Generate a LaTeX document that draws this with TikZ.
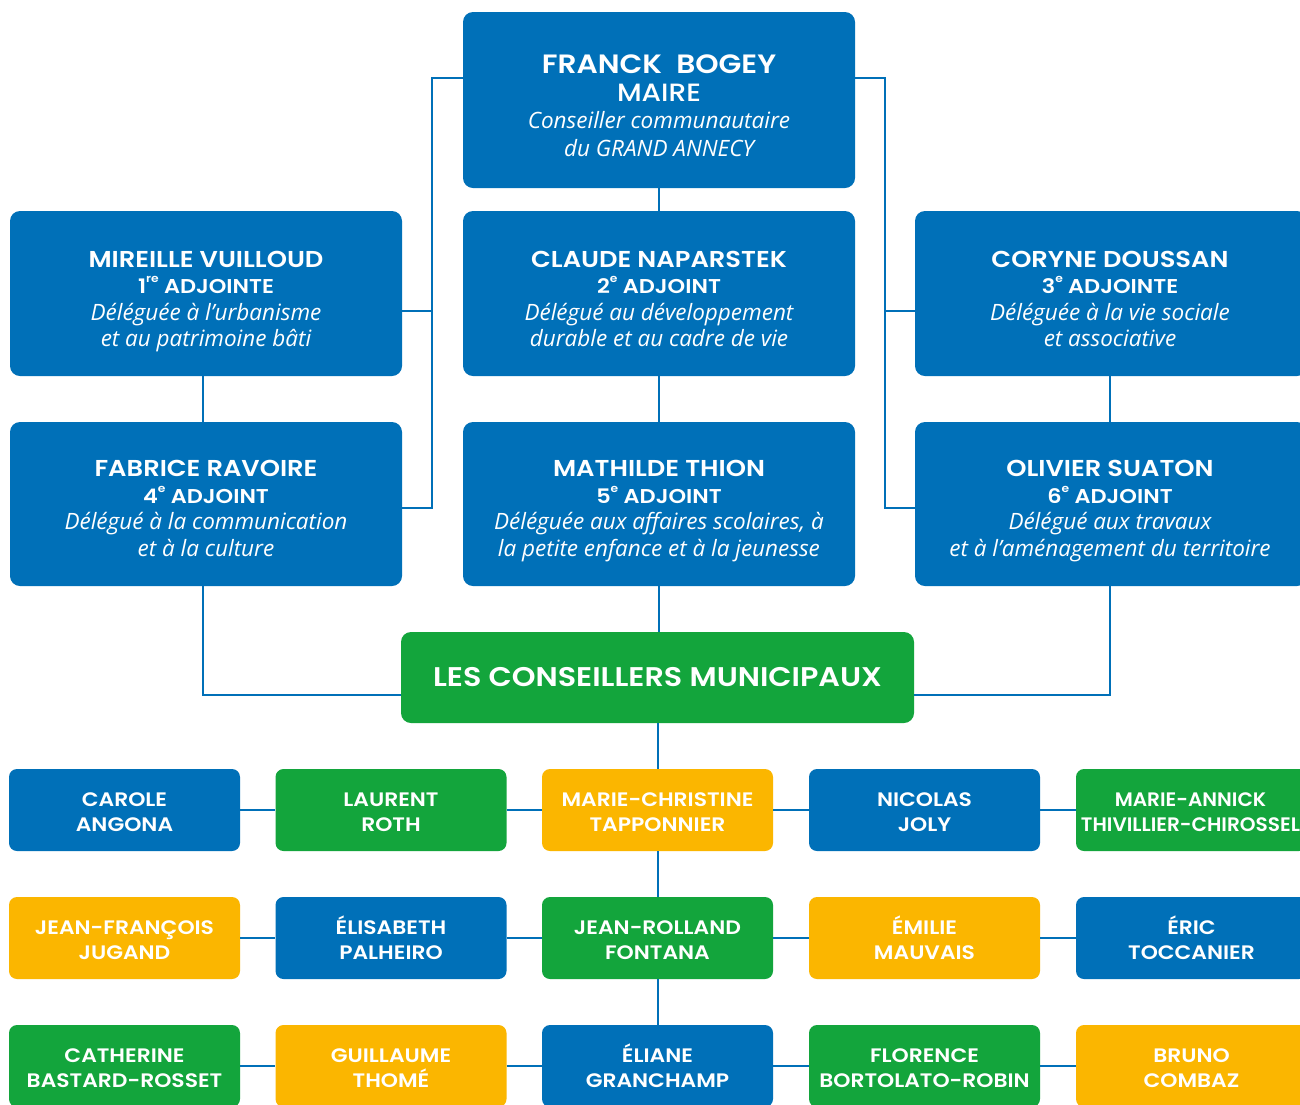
\documentclass[tikz,border=0pt]{standalone}
\usepackage{fontspec}
\newfontfamily\nf{Poppins SemiBold}[FakeStretch=1.12]
\newfontfamily\nfc{Poppins SemiBold}[FakeStretch=1.03]
\newfontfamily\mf{Poppins Medium}[FakeStretch=1.12]
\newfontfamily\itf{Open Sans}
\definecolor{cblue}{HTML}{0070B8}
\definecolor{cgreen}{HTML}{13A53C}
\definecolor{cyellow}{HTML}{FBB600}
\newcommand{\Fst}{\vphantom{ÉÀ}}
\newcommand{\Lst}{\vphantom{gjpqÇ}}
\begin{document}
\begin{tikzpicture}[x=1pt,y=-1pt,
  bigbox/.style={rectangle, rounded corners=10pt, fill=cblue,
     minimum width=392pt, minimum height=165pt, inner sep=0pt},
  txt/.style={text=white, align=center, inner sep=0pt},
  smallbox/.style={rectangle, rounded corners=8pt, text=white, align=center,
     minimum width=231pt, minimum height=82pt, inner sep=0pt},
  bl/.style={smallbox, fill=cblue},
  gr/.style={smallbox, fill=cgreen},
  ye/.style={smallbox, fill=cyellow},
  stxt/.style={txt, font=\nf\fontsize{19.5}{25}\selectfont},
  link/.style={draw=cblue, line width=2pt},
]
\useasboundingbox (0,0) rectangle (1300,1104);
\clip (0,0) rectangle (1300,1104);
\fill[white] (0,0) rectangle (1300,1104);

\newcommand{\nmline}[1]{{\nf\fontsize{23}{26.5}\selectfont\Fst #1}}
\newcommand{\adjline}[1]{{\nf\fontsize{20}{26.5}\selectfont #1}}
\newcommand{\dsline}[1]{{\itf\itshape\fontsize{22.5}{26.5}\selectfont #1}}
\newcommand{\dslast}[1]{{\itf\itshape\fontsize{22.5}{26.5}\selectfont #1\Lst}}
\newcommand{\supx}[1]{\raisebox{0.55em}{\fontsize{11}{11}\selectfont #1}}
\newcommand{\two}[2]{\Fst #1\\#2\Lst}

% big boxes
\node[bigbox, minimum height=176pt] (franck) at (659,100) {};
\node[txt, font=\fontsize{22}{27.8}\selectfont] (franck-t) at ([yshift=-5]franck.center)
  {{\nf\fontsize{26.5}{27.8}\selectfont\Fst FRANCK\ \ BOGEY}\\
   {\mf\fontsize{25}{27.8}\selectfont MAIRE}\\
   {\itf\itshape\fontsize{22.5}{27.8}\selectfont Conseiller communautaire}\\
   {\itf\itshape\fontsize{22.5}{27.8}\selectfont du GRAND ANNECY\Lst}};

\node[bigbox] (mireille) at (206,293.5) {};
\node[bigbox] (claude) at (659,293.5) {};
\node[bigbox] (coryne) at (1111,293.5) {};
\node[bigbox, minimum height=164pt] (fabrice) at (206,504) {};
\node[bigbox, minimum height=164pt] (mathilde) at (659,504) {};
\node[bigbox, minimum height=164pt] (olivier) at (1111,504) {};

\node[txt, font=\fontsize{22}{26.5}\selectfont] (mireille-t) at ([yshift=-5]mireille.center)
  {\nmline{MIREILLE VUILLOUD}\\ \adjline{1\supx{re} ADJOINTE}\\
   \dsline{Déléguée à l’urbanisme}\\ \dslast{et au patrimoine bâti}};
\node[txt, font=\fontsize{22}{26.5}\selectfont] (claude-t) at ([yshift=-5]claude.center)
  {\nmline{CLAUDE NAPARSTEK}\\ \adjline{2\supx{e} ADJOINT}\\
   \dsline{Délégué au développement}\\ \dslast{durable et au cadre de vie}};
\node[txt, font=\fontsize{22}{26.5}\selectfont] (coryne-t) at ([yshift=-5,xshift=-1]coryne.center)
  {\nmline{CORYNE DOUSSAN}\\ \adjline{3\supx{e} ADJOINTE}\\
   \dsline{Déléguée à la vie sociale}\\ \dslast{et associative}};
\node[txt, font=\fontsize{22}{26.5}\selectfont] (fabrice-t) at ([yshift=-4]fabrice.center)
  {\nmline{FABRICE RAVOIRE}\\ \adjline{4\supx{e} ADJOINT}\\
   \dsline{Délégué à la communication}\\ \dslast{et à la culture}};
\node[txt, font=\fontsize{22}{26.5}\selectfont] (mathilde-t) at ([yshift=-4]mathilde.center)
  {\nmline{MATHILDE THION}\\ \adjline{5\supx{e} ADJOINT}\\
   \dsline{Déléguée aux affaires scolaires, à}\\ \dslast{la petite enfance et à la jeunesse}};
\node[txt, font=\fontsize{22}{26.5}\selectfont] (olivier-t) at ([yshift=-4,xshift=-1]olivier.center)
  {\nmline{OLIVIER SUATON}\\ \adjline{6\supx{e} ADJOINT}\\
   \dsline{Délégué aux travaux}\\ \dslast{et à l’aménagement du territoire}};

% green
\node[rectangle, rounded corners=10pt, fill=cgreen, text=white, minimum width=513pt,
      minimum height=91pt, inner sep=0pt, font=\nf\fontsize{27}{28}\selectfont] (cons) at (657.5,677.5)
  {LES CONSEILLERS MUNICIPAUX};

% small boxes
\foreach \nm/\st/\x/\y in {carole/bl/124.5/810, laurent/gr/391/810, mc/ye/657.5/810, nicolas/bl/924.5/810, ma/gr/1191.5/810,
  jf/ye/124.5/938, elisabeth/bl/391/938, jr/gr/657.5/938, emilie/ye/924.5/938, eric/bl/1191.5/938,
  catherine/gr/124.5/1066, guillaume/ye/391/1066, eliane/bl/657.5/1066, florence/gr/924.5/1066, bruno/ye/1191.5/1066}
  {\node[\st] (\nm) at (\x,\y) {};}

\node[stxt] (carole-t)    at ([yshift=-2]carole.center)    {\two{CAROLE}{ANGONA}};
\node[stxt] (laurent-t)   at ([yshift=-2]laurent.center)   {\two{LAURENT}{ROTH}};
\node[stxt] (mc-t)        at ([yshift=-2]mc.center)        {\two{MARIE-CHRISTINE}{TAPPONNIER}};
\node[stxt] (nicolas-t)   at ([yshift=-2]nicolas.center)   {\two{NICOLAS}{JOLY}};
\node[stxt, font=\nfc\fontsize{19.5}{25}\selectfont] (ma-t) at ([yshift=-2,xshift=-1]ma.center) {\two{MARIE-ANNICK}{THIVILLIER-CHIROSSEL}};
\node[stxt] (jf-t)        at ([yshift=-2]jf.center)        {\two{JEAN-FRANÇOIS}{JUGAND}};
\node[stxt] (elisabeth-t) at ([yshift=-2]elisabeth.center) {\two{ÉLISABETH}{PALHEIRO}};
\node[stxt] (jr-t)        at ([yshift=-2]jr.center)        {\two{JEAN-ROLLAND}{FONTANA}};
\node[stxt] (emilie-t)    at ([yshift=-2]emilie.center)    {\two{ÉMILIE}{MAUVAIS}};
\node[stxt] (eric-t)      at ([yshift=-2]eric.center)      {\two{ÉRIC}{TOCCANIER}};
\node[stxt] (catherine-t) at ([yshift=-2]catherine.center) {\two{CATHERINE}{BASTARD-ROSSET}};
\node[stxt] (guillaume-t) at ([yshift=-2]guillaume.center) {\two{GUILLAUME}{THOMÉ}};
\node[stxt] (eliane-t)    at ([yshift=-2]eliane.center)    {\two{ÉLIANE}{GRANCHAMP}};
\node[stxt] (florence-t)  at ([yshift=-2]florence.center)  {\two{FLORENCE}{BORTOLATO-ROBIN}};
\node[stxt] (bruno-t)     at ([yshift=-2]bruno.center)     {\two{BRUNO}{COMBAZ}};

% connectors
\coordinate (L1) at (432,78);
\coordinate (L2) at (432,311);
\coordinate (L3) at (432,508);
\coordinate (R1) at (885,78);
\coordinate (R2) at (885,311);
\coordinate (R3) at (885,508);
\coordinate (G1) at (0,695);
\coordinate (VL) at (203,0);
\coordinate (VR) at (1110,0);

\draw[link] (franck.west |- L1) -- (L1) -- (L3) -- (fabrice.east |- L3);
\draw[link] (mireille.east |- L2) -- (L2);
\draw[link] (franck.east |- R1) -- (R1) -- (R3) -- (olivier.west |- R3);
\draw[link] (coryne.west |- R2) -- (R2);

\draw[link] (franck.south) -- (claude.north);
\draw[link] (claude.south) -- (mathilde.north);
\draw[link] (mathilde.south) -- (mathilde.south |- cons.north);
\draw[link] (mireille.south -| VL) -- (fabrice.north -| VL);
\draw[link] (coryne.south -| VR) -- (olivier.north -| VR);
\draw[link] (fabrice.south -| VL) -- (VL |- G1) -- (cons.west |- G1);
\draw[link] (olivier.south -| VR) -- (VR |- G1) -- (cons.east |- G1);

\draw[link] (cons.south -| mc.north) -- (mc.north);
\draw[link] (mc.south) -- (jr.north);
\draw[link] (jr.south) -- (eliane.north);

\draw[link] (carole.east) -- (laurent.west);
\draw[link] (laurent.east) -- (mc.west);
\draw[link] (mc.east) -- (nicolas.west);
\draw[link] (nicolas.east) -- (ma.west);
\draw[link] (jf.east) -- (elisabeth.west);
\draw[link] (elisabeth.east) -- (jr.west);
\draw[link] (jr.east) -- (emilie.west);
\draw[link] (emilie.east) -- (eric.west);
\draw[link] (catherine.east) -- (guillaume.west);
\draw[link] (guillaume.east) -- (eliane.west);
\draw[link] (eliane.east) -- (florence.west);
\draw[link] (florence.east) -- (bruno.west);
\end{tikzpicture}
\end{document}
